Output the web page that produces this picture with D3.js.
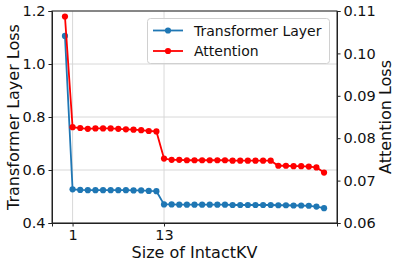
<!DOCTYPE html>
<html>
<head>
<meta charset="utf-8">
<script src="https://cdn.jsdelivr.net/npm/d3@7"></script>
<style>
  html, body { margin: 0; padding: 0; background: #fff; }
  svg { display: block; font-family: "DejaVu Sans", sans-serif; }
</style>
</head>
<body>
<div id="chart"></div>
<script>
// --- data ---
const sizes = d3.range(0, 35); // 0 .. 34
const layerLoss = [
  1.106, 0.527, 0.525, 0.524, 0.524, 0.524, 0.524, 0.524, 0.524, 0.523, 0.523, 0.521, 0.520,
  0.470, 0.470, 0.469, 0.469, 0.469, 0.469, 0.469, 0.469, 0.469, 0.468, 0.468, 0.468, 0.468,
  0.468, 0.468, 0.467, 0.467, 0.466, 0.466, 0.465, 0.462, 0.456
];
const attnLoss = [
  0.1087, 0.0826, 0.0824, 0.0822, 0.0823, 0.0823, 0.0823, 0.0822, 0.0821, 0.0820, 0.0819, 0.0817, 0.0816,
  0.0752, 0.0749, 0.0749, 0.0748, 0.0748, 0.0748, 0.0748, 0.0748, 0.0748, 0.0747, 0.0747, 0.0747, 0.0747,
  0.0747, 0.0747, 0.0735, 0.0735, 0.0734, 0.0734, 0.0733, 0.0731, 0.0719
];
const xTicks = [1, 13];
const leftTicks = [0.4, 0.6, 0.8, 1.0, 1.2];
const rightTicks = [0.06, 0.07, 0.08, 0.09, 0.10, 0.11];
const seriesNames = ["Transformer Layer", "Attention"];
const seriesColors = ["#1f77b4", "#ff0000"];

const W = 399, H = 267;
const m = { left: 52, right: 62, top: 11, bottom: 44 };

const svg = d3.select("#chart").append("svg")
  .attr("width", W).attr("height", H);

const x = d3.scaleLinear().domain([-1.7, 35.7]).range([m.left, W - m.right]);
const yL = d3.scaleLinear().domain([0.4, 1.2]).range([H - m.bottom, m.top]);
const yR = d3.scaleLinear().domain([0.06, 0.11]).range([H - m.bottom, m.top]);

// grid
const grid = svg.append("g");
grid.selectAll("line.h").data(leftTicks).enter().append("line")
  .attr("x1", m.left).attr("x2", W - m.right)
  .attr("y1", d => yL(d)).attr("y2", d => yL(d))
  .attr("stroke", "#d4d4d4").attr("stroke-width", 0.9);
grid.selectAll("line.v").data(xTicks).enter().append("line")
  .attr("x1", d => x(d)).attr("x2", d => x(d))
  .attr("y1", m.top).attr("y2", H - m.bottom)
  .attr("stroke", "#d4d4d4").attr("stroke-width", 0.9);

function styleAxis(g) {
  g.selectAll("path").attr("stroke", "#222").attr("stroke-width", 1);
  g.selectAll("line").attr("stroke", "#222").attr("stroke-width", 1);
  g.selectAll("text").attr("fill", "#111").attr("font-size", "14.5px")
    .attr("font-family", "DejaVu Sans, sans-serif");
}

svg.append("g")
  .attr("transform", `translate(0,${H - m.bottom})`)
  .call(d3.axisBottom(x).tickValues(xTicks).tickFormat(d3.format("d")).tickSizeOuter(0).tickSize(3.5).tickPadding(3))
  .call(styleAxis);

svg.append("g")
  .attr("transform", `translate(${m.left},0)`)
  .call(d3.axisLeft(yL).tickValues(leftTicks).tickFormat(d3.format(".1f")).tickSizeOuter(0).tickSize(3.5).tickPadding(3))
  .call(styleAxis);

svg.append("g")
  .attr("transform", `translate(${W - m.right},0)`)
  .call(d3.axisRight(yR).tickValues(rightTicks).tickFormat(d3.format(".2f")).tickSizeOuter(0).tickSize(3.5).tickPadding(3))
  .call(styleAxis);

// frame
svg.append("rect")
  .attr("x", m.left).attr("y", m.top)
  .attr("width", W - m.left - m.right).attr("height", H - m.top - m.bottom)
  .attr("fill", "none").attr("stroke", "#222").attr("stroke-width", 1);

// series
function drawSeries(vals, yScale, color) {
  const pts = sizes.map((s, i) => [s, vals[i]]);
  const g = svg.append("g");
  g.append("path").datum(pts)
    .attr("fill", "none").attr("stroke", color).attr("stroke-width", 1.8)
    .attr("d", d3.line().x(d => x(d[0])).y(d => yScale(d[1])));
  g.selectAll("circle").data(pts).enter().append("circle")
    .attr("cx", d => x(d[0])).attr("cy", d => yScale(d[1]))
    .attr("r", 3.1).attr("fill", color);
}
drawSeries(layerLoss, yL, seriesColors[0]);
drawSeries(attnLoss, yR, seriesColors[1]);

// axis labels
svg.append("text")
  .attr("x", (m.left + W - m.right) / 2).attr("y", 258)
  .attr("text-anchor", "middle").attr("font-size", "16px").attr("fill", "#111")
  .text("Size of IntactKV");

svg.append("text")
  .attr("transform", `translate(19,${(m.top + H - m.bottom) / 2}) rotate(-90)`)
  .attr("text-anchor", "middle").attr("font-size", "16px").attr("fill", "#111")
  .text("Transformer Layer Loss");

svg.append("text")
  .attr("transform", `translate(391,${(m.top + H - m.bottom) / 2}) rotate(-90)`)
  .attr("text-anchor", "middle").attr("font-size", "16px").attr("fill", "#111")
  .text("Attention Loss");

// legend
const lg = svg.append("g");
lg.append("rect")
  .attr("x", 147.5).attr("y", 18.5).attr("width", 182).attr("height", 45)
  .attr("rx", 3).attr("fill", "#fff").attr("fill-opacity", 0.8)
  .attr("stroke", "#d0d0d0").attr("stroke-width", 1);
seriesNames.forEach((name, i) => {
  const yy = 30.5 + i * 20.5;
  lg.append("line").attr("x1", 153).attr("x2", 183).attr("y1", yy).attr("y2", yy)
    .attr("stroke", seriesColors[i]).attr("stroke-width", 1.8);
  lg.append("circle").attr("cx", 168).attr("cy", yy).attr("r", 3.1).attr("fill", seriesColors[i]);
  lg.append("text").attr("x", 194).attr("y", yy + 5)
    .attr("font-size", "14px").attr("fill", "#111").text(name);
});
</script>
</body>
</html>
